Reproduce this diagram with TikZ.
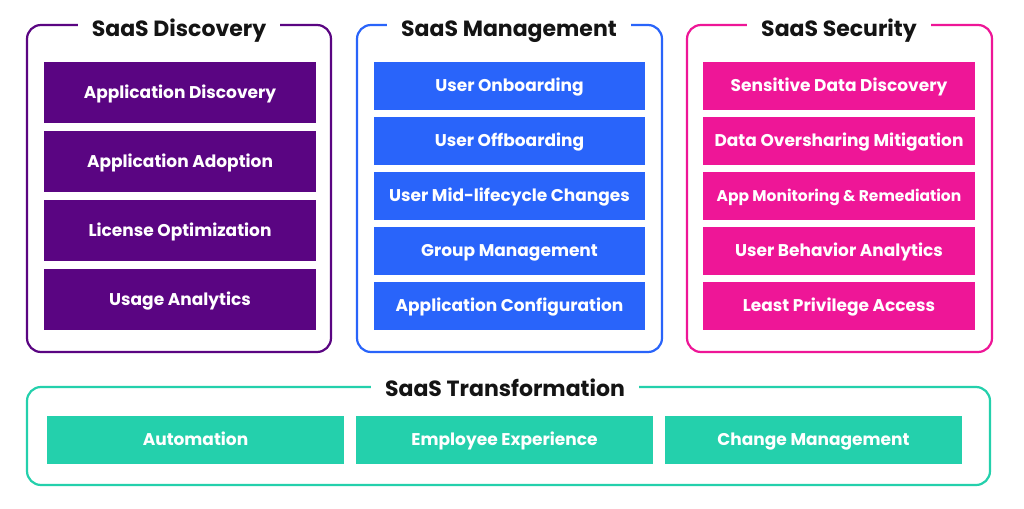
\documentclass[tikz,border=0pt]{standalone}
\usepackage{fontspec}
\setmainfont{Poppins}
\definecolor{cpurple}{RGB}{90,5,130}
\definecolor{cblue}{RGB}{41,100,250}
\definecolor{cpink}{RGB}{238,22,151}
\definecolor{cteal}{RGB}{36,208,172}
\definecolor{ctext}{RGB}{20,20,20}
\begin{document}
\begin{tikzpicture}[x=1pt,y=-1pt,
  frame/.style={draw, line width=2.2pt, rounded corners=14pt},
  title/.style={fill=white, anchor=base, inner xsep=14pt, inner ysep=3pt, text=ctext,
    font=\fontsize{22}{25}\selectfont\bfseries},
  item/.style={inner sep=0pt, text=white, text height=11.9pt, text depth=0pt,
    font=\fontsize{17}{20}\selectfont\bfseries},
  disc/.style={item, fill=cpurple, minimum width=272pt, minimum height=61pt},
  mgmt/.style={item, fill=cblue, minimum width=271pt, minimum height=48pt},
  secu/.style={item, fill=cpink, minimum width=272pt, minimum height=48pt},
  tran/.style={item, fill=cteal, minimum width=297pt, minimum height=48pt}]
\useasboundingbox (0,0) rectangle (1024,508);
\fill[white] (0,0) rectangle (1024,508);
% frames
\draw[frame, cpurple] (27,25) rectangle (331,352);
\draw[frame, cblue] (357,25) rectangle (662,352);
\draw[frame, cpink] (687,25) rectangle (992,352);
\draw[frame, cteal] (27,387) rectangle (990,485);
% titles
\node[title] (tdisc) at (179,37) {SaaS Discovery};
\node[title] (tmgmt) at (509,37) {SaaS Management};
\node[title] (tsecu) at (839,37) {SaaS Security};
\node[title] (ttran) at (505,396) {SaaS Transformation};
% discovery
\node[disc] (d1) at (180,92.5) {Application Discovery};
\node[disc] (d2) at (180,161.5) {Application Adoption};
\node[disc] (d3) at (180,230.5) {License Optimization};
\node[disc] (d4) at (180,299.5) {Usage Analytics};
% management
\node[mgmt] (m1) at (509.5,86) {User Onboarding};
\node[mgmt] (m2) at (509.5,141) {User Offboarding};
\node[mgmt] (m3) at (509.5,196) {User Mid-lifecycle Changes};
\node[mgmt] (m4) at (509.5,251) {Group Management};
\node[mgmt] (m5) at (509.5,306) {Application Configuration};
% security
\node[secu] (s1) at (839,86) {Sensitive Data Discovery};
\node[secu] (s2) at (839,141) {Data Oversharing Mitigation};
\node[secu, font=\fontsize{15.5}{18}\selectfont\bfseries, text height=10.9pt] (s3) at (839,196) {App Monitoring \& Remediation};
\node[secu] (s4) at (839,251) {User Behavior Analytics};
\node[secu] (s5) at (839,306) {Least Privilege Access};
% transformation
\node[tran] (t1) at (195.5,440) {Automation};
\node[tran] (t2) at (504.5,440) {Employee Experience};
\node[tran] (t3) at (813.5,440) {Change Management};
\end{tikzpicture}
\end{document}
